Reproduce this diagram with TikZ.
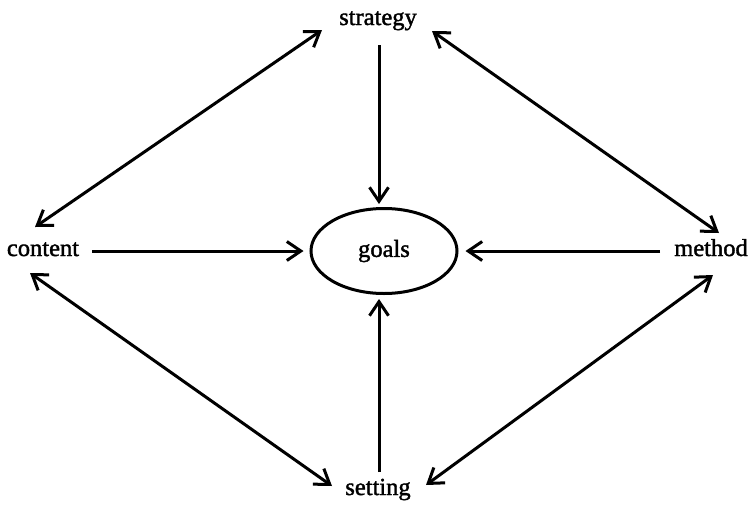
\documentclass[tikz,border=0pt]{standalone}
\usepackage{fontspec}
\setmainfont{Liberation Serif}
\newfontfamily\lblfont[FakeBold=1.6]{Liberation Serif}
\usetikzlibrary{arrows.meta,shapes.geometric}

\begin{document}
\begin{tikzpicture}[x=1pt,y=-1pt,
        lbl/.style={inner sep=0pt, anchor=base, font=\fontsize{24.5}{28}\lblfont},
        oneway/.style={-{Straight Barb[length=14pt,width=19pt]}, line width=3pt},
        twoway/.style={{Straight Barb[length=14pt,width=19pt]}-{Straight Barb[length=14pt,width=19pt]}, line width=3pt}]
            \useasboundingbox (0,0) rectangle (752,509);

            \node[lbl] (strategy) at (378,25) {strategy};
            \node[lbl] (content) at (43,256) {content};
            \node[lbl] (method) at (711,256) {method};
            \node[lbl] (setting) at (378,495) {setting};
            \node[draw, ellipse, line width=3pt, minimum width=146pt, minimum height=85pt,
                  font=\fontsize{24.5}{28}\lblfont] (goals) at (384,251) {goals};

            \draw[oneway] ([shift={(1pt,-20pt)}]strategy.base) -- ([shift={(-5pt,3pt)}]goals.north);
            \draw[oneway] ([shift={(49pt,5pt)}]content.base) -- ([xshift=-6pt]goals.west);
            \draw[oneway] ([shift={(-51pt,5pt)}]method.base) -- ([xshift=7pt]goals.east);
            \draw[oneway] ([shift={(1pt,23pt)}]setting.base) -- ([shift={(-5pt,-4pt)}]goals.south);

            \draw[twoway] ([shift={(-8pt,29pt)}]content.base) -- ([shift={(-56pt,-5pt)}]strategy.base);
            \draw[twoway] ([shift={(54pt,-6pt)}]strategy.base) -- ([shift={(8pt,23pt)}]method.base);
            \draw[twoway] ([shift={(-13pt,-17pt)}]content.base) -- ([shift={(-46pt,9pt)}]setting.base);
            \draw[twoway] ([shift={(48pt,10pt)}]setting.base) -- ([shift={(2pt,-19pt)}]method.base);
        \end{tikzpicture}
\end{document}
